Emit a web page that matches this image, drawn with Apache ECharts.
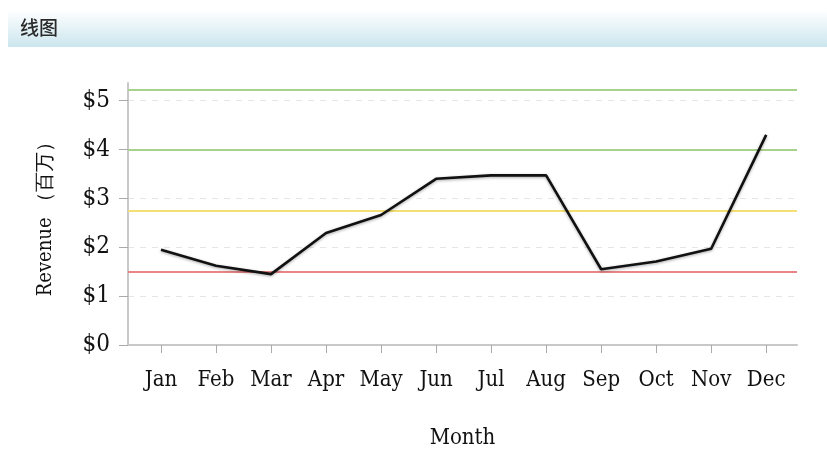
<!DOCTYPE html>
<html>
<head>
<meta charset="utf-8">
<script src="https://cdn.jsdelivr.net/npm/echarts@6/dist/echarts.min.js"></script>
<style>
  html, body { margin: 0; padding: 0; background: #fff; }
  #chart { width: 827px; height: 454px; }
</style>
</head>
<body>
<div id="chart"></div>
<script>
// Monthly revenue, in millions of dollars
const months = ['Jan', 'Feb', 'Mar', 'Apr', 'May', 'Jun', 'Jul', 'Aug', 'Sep', 'Oct', 'Nov', 'Dec'];
const revenue = [1.95, 1.62, 1.45, 2.29, 2.66, 3.40, 3.47, 3.47, 1.55, 1.71, 1.97, 4.30];
const yTicks = [0, 1, 2, 3, 4, 5];
// Reference levels drawn across the plot
const thresholds = [
  { value: 5.22, color: '#a9d18e' },
  { value: 4.0,  color: '#a9d18e' },
  { value: 2.75, color: '#f4df74' },
  { value: 1.5,  color: '#e98585' }
];

const monthIdx = months.map((_, i) => i);
const labelFont = '"DejaVu Serif Condensed", "Liberation Serif", serif';

const chart = echarts.init(document.getElementById('chart'));
chart.setOption({
  animation: false,
  backgroundColor: '#fff',
  graphic: [
    {
      type: 'rect',
      left: 8, top: 10,
      shape: { width: 819, height: 37 },
      style: {
        fill: new echarts.graphic.LinearGradient(0, 0, 0, 1, [
          { offset: 0, color: '#ffffff' },
          { offset: 1, color: '#cbe6ee' }
        ])
      },
      silent: true
    },
    {
      type: 'text',
      left: 20, top: 18,
      style: {
        text: '线图',
        font: '500 19px "Noto Sans CJK SC", sans-serif',
        fill: '#2a2a2a'
      },
      silent: true
    }
  ],
  grid: { left: 128, right: 30, top: 83, bottom: 109, containLabel: false },
  xAxis: {
    type: 'value',
    min: -0.6,
    max: 11.56,
    name: 'Month',
    nameLocation: 'middle',
    nameGap: 82,
    nameTextStyle: { fontFamily: labelFont, fontSize: 22, color: '#111' },
    axisLine: { show: true, onZero: false, lineStyle: { color: '#c8c8c8', width: 2 } },
    axisTick: { show: true, customValues: monthIdx, length: 8, lineStyle: { color: '#aaa' } },
    axisLabel: {
      customValues: monthIdx,
      formatter: v => months[Math.round(v)],
      fontFamily: labelFont, fontSize: 22, color: '#111', margin: 24
    },
    splitLine: { show: false }
  },
  yAxis: {
    type: 'value',
    min: 0,
    max: 5.36,
    name: 'Revenue （百万）',
    nameLocation: 'middle',
    nameGap: 72,
    nameTextStyle: { fontFamily: labelFont, fontSize: 20, color: '#111' },
    axisLine: { show: true, onZero: false, lineStyle: { color: '#c8c8c8', width: 2 } },
    axisTick: { show: true, customValues: yTicks, length: 9, lineStyle: { color: '#aaa' } },
    axisLabel: {
      customValues: yTicks,
      formatter: v => '$' + v,
      fontFamily: labelFont, fontSize: 24, color: '#111', margin: 18
    },
    splitLine: { show: true, lineStyle: { color: '#e6e6e6', type: [6, 6], width: 1 } }
  },
  series: [
    {
      type: 'line',
      data: revenue.map((v, i) => [i, v]),
      showSymbol: false,
      symbol: 'none',
      lineStyle: {
        color: '#111', width: 2.6,
        shadowColor: 'rgba(0,0,0,0.35)', shadowBlur: 3, shadowOffsetY: 1
      },
      markLine: {
        silent: true,
        symbol: 'none',
        label: { show: false },
        z: 1,
        data: thresholds.map(t => ({
          yAxis: t.value,
          lineStyle: { color: t.color, width: 2, type: 'solid' }
        }))
      },
      z: 3
    }
  ]
});
</script>
</body>
</html>
